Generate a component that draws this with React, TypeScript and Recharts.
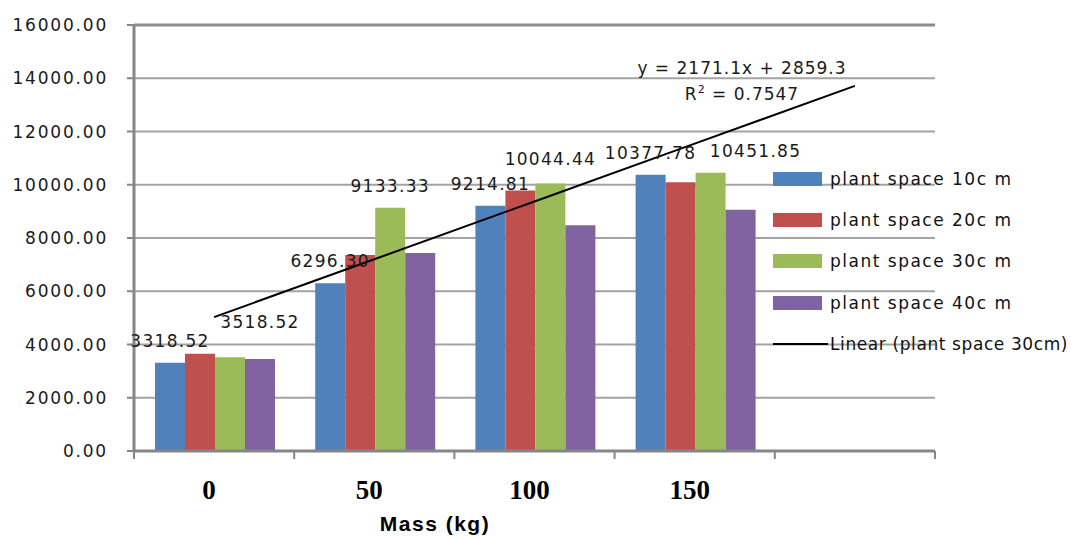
import React from "react";
import {
  ComposedChart,
  Bar,
  Line,
  XAxis,
  YAxis,
  CartesianGrid,
  ReferenceLine,
  LabelList,
} from "recharts";

const masses = ["0", "50", "100", "150", ""];
const space10 = [3318.52, 6296.3, 9214.81, 10377.78, null];
const space20 = [3650, 7360, 9780, 10090, null];
const space30 = [3518.52, 9133.33, 10044.44, 10451.85, null];
const space40 = [3460, 7440, 8480, 9060, null];
const trend30 = [5030.4, 7201.5, 9372.6, 11543.7, 13714.8];
const yTicks = [0, 2000, 4000, 6000, 8000, 10000, 12000, 14000, 16000];

const data = masses.map((m, i) => ({
  mass: m,
  s10: space10[i],
  s20: space20[i],
  s30: space30[i],
  s40: space40[i],
  trend: trend30[i],
}));

const COLORS = ["#4F81BD", "#C0504D", "#9BBB59", "#8064A2"];
const LEGEND = [
  "plant space 10c m",
  "plant space 20c m",
  "plant space 30c m",
  "plant space 40c m",
];

// hand-placed nudges for the 30cm labels, like the original
const greenNudge = [
  [30, -13],
  [0, 0],
  [0, -3],
  [45, 0],
];

const HALF_BAND = 80.1;

const labelFont = {
  fontFamily: "DejaVu Sans",
  fontSize: 17,
  letterSpacing: 1.3,
  fill: "#1a1a1a",
};

function valueLabel(nudge?: number[][]) {
  return (props: any) => {
    const { x, y, width, value, index } = props;
    if (value == null) return null;
    const [dx, dy] = nudge ? nudge[index] : [0, 0];
    return (
      <text
        x={x + width / 2 + dx}
        y={y - 16 + dy}
        textAnchor="middle"
        style={labelFont}
      >
        {Number(value).toFixed(2)}
      </text>
    );
  };
}

function MassTick(props: any) {
  const { x, y, payload, index } = props;
  return (
    <g>
      <line x1={x - HALF_BAND} y1={y} x2={x - HALF_BAND} y2={y + 8} stroke="#868686" strokeWidth={2} />
      {index === masses.length - 1 && (
        <line x1={x + HALF_BAND} y1={y} x2={x + HALF_BAND} y2={y + 8} stroke="#868686" strokeWidth={2} />
      )}
      <text
        x={x - 5}
        y={y + 48}
        textAnchor="middle"
        style={{
          fontFamily: "Liberation Serif",
          fontWeight: "bold",
          fontSize: 27,
          fill: "#000",
        }}
      >
        {payload.value}
      </text>
    </g>
  );
}

export default function App() {
  return (
    <div
      style={{
        position: "absolute",
        left: 0,
        top: 0,
        width: 1086,
        height: 540,
        overflow: "hidden",
        background: "#fff",
      }}
    >
      <ComposedChart
        width={1086}
        height={540}
        data={data}
        margin={{ top: 25, right: 151, left: 0, bottom: 0 }}
        barCategoryGap={21}
        barGap={0}
      >
        <CartesianGrid vertical={false} stroke="#a3a3a3" strokeWidth={2} />
        <XAxis
          dataKey="mass"
          height={89}
          axisLine={{ stroke: "#868686", strokeWidth: 3 }}
          tickLine={false}
          tickSize={0}
          tickMargin={0}
          tick={<MassTick />}
          interval={0}
        />
        <YAxis
          width={134}
          domain={[0, 16000]}
          ticks={yTicks}
          tickFormatter={(v) => Number(v).toFixed(2)}
          axisLine={{ stroke: "#868686", strokeWidth: 3 }}
          tickLine={{ stroke: "#868686", strokeWidth: 2 }}
          tickSize={7}
          tickMargin={19}
          tick={{
            fontFamily: "DejaVu Sans",
            fontSize: 17,
            letterSpacing: 1.8,
            fill: "#1a1a1a",
          }}
        />
        <ReferenceLine y={16000} stroke="#8c8c8c" strokeWidth={3} />
        <Bar dataKey="s10" fill={COLORS[0]} isAnimationActive={false}>
          <LabelList dataKey="s10" content={valueLabel()} />
        </Bar>
        <Bar dataKey="s20" fill={COLORS[1]} isAnimationActive={false} />
        <Bar dataKey="s30" fill={COLORS[2]} isAnimationActive={false}>
          <LabelList dataKey="s30" content={valueLabel(greenNudge)} />
        </Bar>
        <Bar dataKey="s40" fill={COLORS[3]} isAnimationActive={false} />
        <Line
          dataKey="trend"
          type="linear"
          stroke="#000"
          strokeWidth={2}
          dot={false}
          activeDot={false}
          isAnimationActive={false}
        />
      </ComposedChart>

      {/* trendline equation */}
      <div
        style={{
          position: "absolute",
          left: 600,
          width: 284,
          top: 55,
          textAlign: "center",
          fontFamily: "DejaVu Sans",
          fontSize: 17,
          letterSpacing: 1,
          color: "#1a1a1a",
          lineHeight: "26px",
        }}
      >
        <div>y = 2171.1x + 2859.3</div>
        <div>
          R<sup style={{ fontSize: 11, lineHeight: 0 }}>2</sup> = 0.7547
        </div>
      </div>

      {/* legend */}
      <div
        style={{
          position: "absolute",
          left: 773,
          top: 158,
          fontFamily: "DejaVu Sans",
          fontSize: 17,
          letterSpacing: 1.5,
          color: "#111",
          whiteSpace: "nowrap",
        }}
      >
        {LEGEND.map((name, i) => (
          <div key={name} style={{ display: "flex", alignItems: "center", height: 41.3 }}>
            <div style={{ width: 49, height: 14, background: COLORS[i], marginRight: 8 }} />
            <span>{name}</span>
          </div>
        ))}
        <div style={{ display: "flex", alignItems: "center", height: 41.3 }}>
          <div style={{ width: 55, height: 2, background: "#000", marginRight: 2 }} />
          <span style={{ letterSpacing: 0.6 }}>Linear (plant space 30cm)</span>
        </div>
      </div>

      {/* x axis title */}
      <div
        style={{
          position: "absolute",
          left: 335,
          width: 200,
          top: 512,
          textAlign: "center",
          fontFamily: "Liberation Sans",
          fontWeight: "bold",
          fontSize: 21,
          letterSpacing: 1.5,
          color: "#000",
        }}
      >
        Mass (kg)
      </div>
    </div>
  );
}
